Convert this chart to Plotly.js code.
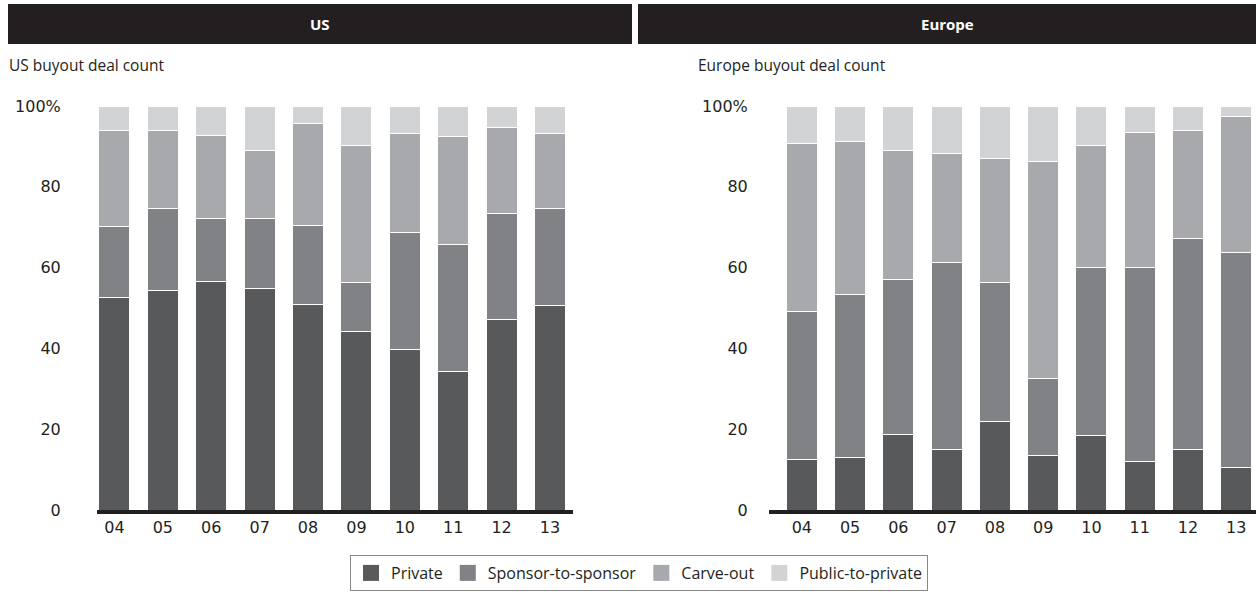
<!DOCTYPE html>
<html>
<head>
<meta charset="utf-8">
<script src="https://cdn.plot.ly/plotly-3.0.1.min.js"></script>
<style>
html,body{margin:0;padding:0;background:#fff;}
#chart{width:1256px;height:592px;}
</style>
</head>
<body>
<div id="chart"></div>
<script>
// ---- Data (share of buyout deal count, %) ----
const years = ["04","05","06","07","08","09","10","11","12","13"];
const seriesNames = ["Private","Sponsor-to-sponsor","Carve-out","Public-to-private"];
const seriesColors = ["#58595b","#808285","#a7a9ac","#d1d3d4"];

const usPrivate  = [52.7, 54.3, 56.5, 54.9, 50.9, 44.1, 39.8, 34.2, 47.1, 50.7];
const usSponsor  = [17.5, 20.3, 15.6, 17.2, 19.5, 12.2, 28.9, 31.6, 26.4, 24.0];
const usCarveOut = [23.7, 19.3, 20.7, 17.0, 25.3, 34.0, 24.5, 26.6, 21.2, 18.4];
const usPublic   = [6.1, 6.1, 7.2, 10.9, 4.3, 9.7, 6.8, 7.6, 5.3, 6.9];

const euPrivate  = [12.4, 12.9, 18.6, 15.0, 22.0, 13.4, 18.4, 12.1, 15.1, 10.6];
const euSponsor  = [36.7, 40.5, 38.4, 46.2, 34.4, 19.1, 41.7, 47.9, 52.2, 53.2];
const euCarveOut = [41.5, 37.9, 31.9, 27.1, 30.5, 53.7, 30.2, 33.5, 26.6, 33.7];
const euPublic   = [9.4, 8.7, 11.1, 11.7, 13.1, 13.8, 9.7, 6.5, 6.1, 2.5];

const yTickVals = [0, 20, 40, 60, 80, 100];
const yTickText = ["0", "20", "40", "60", "80", "100%"];

const panelHeaders = ["US", "Europe"];
const panelSubtitles = ["US buyout deal count", "Europe buyout deal count"];

// ---- Build figure ----
const W = 1256, H = 592;
const px = v => v / W;
const py = v => (H - v) / H;
const FONT = "Open Sans, sans-serif";
const TICKFONT = "DejaVu Sans, sans-serif";
const TXT = "#231f20";

const usSeries = [usPrivate, usSponsor, usCarveOut, usPublic];
const euSeries = [euPrivate, euSponsor, euCarveOut, euPublic];

const traces = [];
usSeries.forEach((vals, i) => {
  traces.push({
    type: "bar", x: years, y: vals, name: seriesNames[i],
    legendgroup: seriesNames[i], showlegend: false,
    marker: {color: seriesColors[i], line: {color: "#ffffff", width: 1}},
    xaxis: "x", yaxis: "y"
  });
});
euSeries.forEach((vals, i) => {
  traces.push({
    type: "bar", x: years, y: vals, name: seriesNames[i],
    legendgroup: seriesNames[i], showlegend: false,
    marker: {color: seriesColors[i], line: {color: "#ffffff", width: 1}},
    xaxis: "x2", yaxis: "y2"
  });
});
// legend entries (square swatches)
seriesNames.forEach((nm, i) => {
  traces.push({
    type: "scatter", mode: "markers", x: [null], y: [null], name: nm,
    legendgroup: nm, showlegend: true,
    marker: {symbol: "square", size: 16, color: seriesColors[i], line: {width: 0}},
    xaxis: "x", yaxis: "y"
  });
});

const yDomain = [py(510), py(106)];

const xCommon = {
  type: "category", showgrid: false, zeroline: false,
  showline: true, linecolor: "#231f20", linewidth: 4,
  ticks: "",
  tickfont: {family: TICKFONT, size: 16, color: TXT}, fixedrange: true
};
const yCommon = {
  range: [0, 100], showgrid: false, zeroline: false, showline: false,
  tickvals: yTickVals, ticktext: yTickText,
  ticks: "outside", tickcolor: "rgba(0,0,0,0)",
  tickfont: {family: TICKFONT, size: 16, color: TXT}, fixedrange: true
};

const layout = {
  width: W, height: H,
  margin: {l: 0, r: 0, t: 0, b: 0, autoexpand: false},
  paper_bgcolor: "#ffffff", plot_bgcolor: "#ffffff",
  barmode: "stack", bargap: 0.36,
  font: {family: FONT, size: 16, color: TXT},
  xaxis: Object.assign({}, xCommon, {domain: [px(97), px(573)], range: [-0.36, 9.475], anchor: "y"}),
  yaxis: Object.assign({}, yCommon, {domain: yDomain, anchor: "x", ticklen: 32}),
  xaxis2: Object.assign({}, xCommon, {domain: [px(769), 1], range: [-0.68, 9.41], anchor: "y2"}),
  yaxis2: Object.assign({}, yCommon, {domain: yDomain, anchor: "x2", ticklen: 17}),
  showlegend: true,
  legend: {
    orientation: "h", x: px(639), xanchor: "center", y: py(591), yanchor: "bottom",
    traceorder: "normal", bordercolor: "#888888", borderwidth: 1,
    font: {family: FONT, size: 16, color: TXT}, itemwidth: 30, bgcolor: "#ffffff",
    tracegroupgap: 0
  },
  shapes: [
    {type: "rect", xref: "paper", yref: "paper", x0: px(8), x1: px(632), y0: py(44), y1: py(4),
     fillcolor: "#231f20", line: {width: 0}},
    {type: "rect", xref: "paper", yref: "paper", x0: px(638), x1: px(1256), y0: py(44), y1: py(4),
     fillcolor: "#231f20", line: {width: 0}}
  ],
  annotations: [
    {xref: "paper", yref: "paper", x: px(320), y: py(24), xanchor: "center", yanchor: "middle",
     text: "<b>" + panelHeaders[0] + "</b>", showarrow: false, font: {family: FONT, size: 15, color: "#ffffff"}},
    {xref: "paper", yref: "paper", x: px(947), y: py(24), xanchor: "center", yanchor: "middle",
     text: "<b>" + panelHeaders[1] + "</b>", showarrow: false, font: {family: FONT, size: 15, color: "#ffffff"}},
    {xref: "paper", yref: "paper", x: px(7), y: py(65), xanchor: "left", yanchor: "middle",
     text: panelSubtitles[0], showarrow: false, font: {family: FONT, size: 15.5, color: TXT}},
    {xref: "paper", yref: "paper", x: px(696), y: py(65), xanchor: "left", yanchor: "middle",
     text: panelSubtitles[1], showarrow: false, font: {family: FONT, size: 15.5, color: TXT}}
  ]
};

Plotly.newPlot("chart", traces, layout, {displayModeBar: false, staticPlot: true});
</script>
</body>
</html>
